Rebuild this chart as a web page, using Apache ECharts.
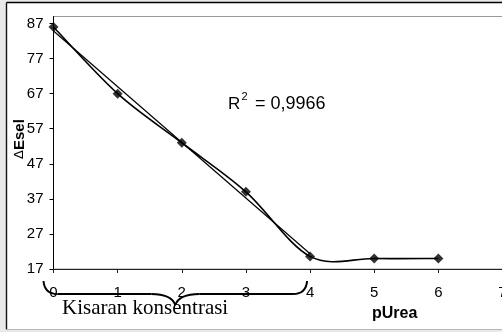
<!DOCTYPE html>
<html>
<head>
<meta charset="utf-8">
<script src="https://cdn.jsdelivr.net/npm/echarts@6/dist/echarts.min.js"></script>
<style>
  html, body { margin: 0; padding: 0; background: #e9e9e9; }
  #chart { width: 502px; height: 332px; }
</style>
</head>
<body>
<div id="chart"></div>
<script>
// Electrode response (ΔEsel) against pUrea
const pUrea = [0, 1, 2, 3, 4, 5, 6];
const eSel = [86, 67, 53, 39, 20.6, 20, 20];
// the linear working range uses the first five points (pUrea 0–4)
const fitCount = 5;
const xTicks = [0, 1, 2, 3, 4, 5, 6, 7];
const yTicks = [17, 27, 37, 47, 57, 67, 77, 87];
const r2Text = '0,9966';
const rangeStart = 0;
const rangeEnd = 4;

// least-squares line over the working range
function linearFit(xs, ys) {
  const n = xs.length;
  const mx = xs.reduce((a, b) => a + b, 0) / n;
  const my = ys.reduce((a, b) => a + b, 0) / n;
  let sxy = 0, sxx = 0;
  for (let i = 0; i < n; i++) {
    sxy += (xs[i] - mx) * (ys[i] - my);
    sxx += (xs[i] - mx) * (xs[i] - mx);
  }
  const slope = sxy / sxx;
  return { slope, intercept: my - slope * mx };
}
const fitX = pUrea.slice(0, fitCount);
const fit = linearFit(fitX, eSel.slice(0, fitCount));
const trendData = [fitX[0], fitX[fitX.length - 1]].map(x => [x, fit.intercept + fit.slope * x]);

// smooth curve through the points (cardinal spline, tension 1/6 like spreadsheet smoothing)
function smoothPath(pts) {
  let d = 'M' + pts[0][0] + ' ' + pts[0][1];
  for (let i = 0; i < pts.length - 1; i++) {
    const p0 = pts[Math.max(i - 1, 0)];
    const p1 = pts[i];
    const p2 = pts[i + 1];
    const p3 = pts[Math.min(i + 2, pts.length - 1)];
    const c1x = p1[0] + (p2[0] - p0[0]) / 6;
    const c1y = p1[1] + (p2[1] - p0[1]) / 6;
    const c2x = p2[0] - (p3[0] - p1[0]) / 6;
    const c2y = p2[1] - (p3[1] - p1[1]) / 6;
    d += ' C' + c1x + ' ' + c1y + ' ' + c2x + ' ' + c2y + ' ' + p2[0] + ' ' + p2[1];
  }
  return d;
}

const chart = echarts.init(document.getElementById('chart'), null, { renderer: 'canvas' });

const labelFont = { color: '#000', fontFamily: '"Liberation Sans", Arial, sans-serif', fontSize: 15 };

const option = {
  animation: false,
  backgroundColor: 'transparent',
  grid: {
    left: 53.5, right: -0.5, top: 16.5, bottom: 63,
    outerBoundsMode: 'none',
    show: true, borderColor: '#9a9a9a', borderWidth: 1, backgroundColor: 'transparent'
  },
  xAxis: {
    type: 'value', min: xTicks[0], max: xTicks[xTicks.length - 1], interval: 1,
    splitLine: { show: false },
    axisLine: { lineStyle: { color: '#222', width: 1 } },
    axisTick: { show: true, length: 4, lineStyle: { color: '#222' } },
    axisLabel: Object.assign({ margin: 16, showMaxLabel: true, hideOverlap: false }, labelFont)
  },
  yAxis: {
    type: 'value', min: 17, max: 89,
    splitLine: { show: false },
    axisLine: { show: true, lineStyle: { color: '#000', width: 1 } },
    axisTick: { show: true, length: 4, customValues: yTicks, lineStyle: { color: '#000' } },
    axisLabel: Object.assign({ margin: 10, customValues: yTicks }, labelFont)
  },
  series: [
    {
      name: 'trend', type: 'line', data: trendData, symbol: 'none',
      lineStyle: { color: '#000', width: 1.2 }, z: 3
    },
    {
      name: 'ΔEsel', type: 'custom', coordinateSystem: 'cartesian2d',
      data: [[pUrea[0], eSel[0]]],
      renderItem: function (params, api) {
        const pts = pUrea.map((x, i) => api.coord([x, eSel[i]]));
        return {
          type: 'path',
          shape: { pathData: smoothPath(pts) },
          style: { fill: null, stroke: '#000', lineWidth: 1.6 }
        };
      },
      z: 4
    },
    {
      name: 'points', type: 'scatter', data: pUrea.map((x, i) => [x, eSel[i]]),
      symbol: 'diamond', symbolSize: 10, itemStyle: { color: '#000' }, z: 5
    }
  ]
};
chart.setOption(option);

// bracket under the axis marking the working range pUrea 0–4
const px0 = chart.convertToPixel({ gridIndex: 0 }, [rangeStart, 17]);
const px4 = chart.convertToPixel({ gridIndex: 0 }, [rangeEnd, 17]);
const axisY = px0[1];
const bl = px0[0] - 10, br = px4[0] - 3, bm = (bl + br) / 2;
const by = axisY + 25, tipY = axisY + 12, cuspY = axisY + 36;
const braceStyle = { fill: null, stroke: '#000', lineWidth: 2 };
const braceParts = [
  { type: 'bezierCurve', shape: { x1: bl, y1: tipY, cpx1: bl + 1, cpy1: by, x2: bl + 14, y2: by } },
  { type: 'line', shape: { x1: bl + 14, y1: by, x2: bm - 24, y2: by } },
  { type: 'bezierCurve', shape: { x1: bm - 24, y1: by, cpx1: bm - 4, cpy1: by, x2: bm, y2: cuspY } },
  { type: 'bezierCurve', shape: { x1: bm, y1: cuspY, cpx1: bm + 4, cpy1: by, x2: bm + 24, y2: by } },
  { type: 'line', shape: { x1: bm + 24, y1: by, x2: br - 14, y2: by } },
  { type: 'bezierCurve', shape: { x1: br - 14, y1: by, cpx1: br - 1, cpy1: by, x2: br, y2: tipY } }
].map(p => Object.assign(p, { style: braceStyle, silent: true }));

chart.setOption({
  graphic: [
    { type: 'rect', z: -10, silent: true, shape: { x: 6.5, y: 2.5, width: 520, height: 327 }, style: { fill: '#fff' } },
    { type: 'line', z: 10, silent: true, shape: { x1: 6.5, y1: 2.5, x2: 520, y2: 2.5 }, style: { stroke: '#000', lineWidth: 1.6 } },
    { type: 'line', z: 10, silent: true, shape: { x1: 6.5, y1: 2.5, x2: 6.5, y2: 329.5 }, style: { stroke: '#111', lineWidth: 1.4 } },
    { type: 'line', z: 10, silent: true, shape: { x1: 6.5, y1: 329.5, x2: 520, y2: 329.5 }, style: { stroke: '#b5b5b5', lineWidth: 1.2 } },
    {
      type: 'text', z: 10, x: 20, y: 139, rotation: Math.PI / 2,
      style: {
        text: '{d|Δ}{b|Esel}', align: 'center', verticalAlign: 'middle',
        rich: {
          d: { fontFamily: '"DejaVu Sans", sans-serif', fontSize: 13, fontWeight: 'normal', fill: '#000' },
          b: { fontFamily: '"Liberation Sans", Arial, sans-serif', fontSize: 15, fontWeight: 'bold', fill: '#000' }
        }
      }
    },
    { type: 'text', z: 10, x: 228, y: 104, style: { text: 'R', font: '17px "Liberation Sans", Arial, sans-serif', fill: '#000', align: 'left', verticalAlign: 'middle' } },
    { type: 'text', z: 10, x: 241.5, y: 97, style: { text: '2', font: '11px "Liberation Sans", Arial, sans-serif', fill: '#000', align: 'left', verticalAlign: 'middle' } },
    { type: 'text', z: 10, x: 255, y: 104, style: { text: '= ' + r2Text, font: '18px "Liberation Sans", Arial, sans-serif', fill: '#000', align: 'left', verticalAlign: 'middle' } },
    { type: 'group', z: 10, children: braceParts },
    { type: 'text', z: 10, x: 62, y: 308, style: { text: 'Kisaran konsentrasi', font: '21px "Liberation Serif", "Times New Roman", serif', fill: '#000', align: 'left', verticalAlign: 'middle' } },
    { type: 'text', z: 10, x: 372, y: 314, style: { text: 'pUrea', font: 'bold 16px "Liberation Sans", Arial, sans-serif', fill: '#000', align: 'left', verticalAlign: 'middle' } }
  ]
});
</script>
</body>
</html>
